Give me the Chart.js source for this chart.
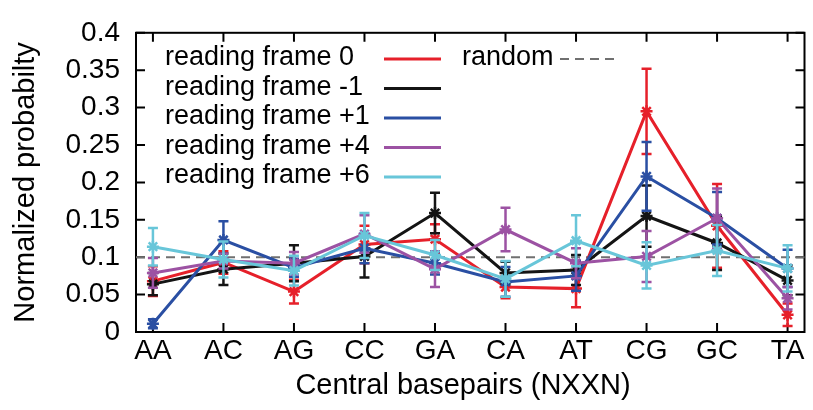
<!DOCTYPE html>
<html>
<head>
<meta charset="utf-8">
<script src="https://cdn.jsdelivr.net/npm/chart.js@4.4.0/dist/chart.umd.min.js"></script>
<style>
  html, body { margin: 0; padding: 0; background: #fff; }
</style>
</head>
<body>
<canvas id="chart" width="813" height="410"></canvas>
<script>
'use strict'

// central basepairs along x, tick values along y
const categories = ['AA', 'AC', 'AG', 'CC', 'GA', 'CA', 'AT', 'CG', 'GC', 'TA']
const yTickValues = [0, 0.05, 0.1, 0.15, 0.2, 0.25, 0.3, 0.35, 0.4]
const randomLevel = 0.1

// normalized probability per reading frame (value, error)
const frame0     = [0.068, 0.093, 0.054, 0.117, 0.124, 0.060, 0.058, 0.295, 0.142, 0.023]
const frame0Err  = [0.020, 0.015, 0.016, 0.025, 0.020, 0.015, 0.025, 0.057, 0.056, 0.015]
const frameM1    = [0.064, 0.084, 0.092, 0.101, 0.159, 0.079, 0.083, 0.155, 0.119, 0.069]
const frameM1Err = [0.015, 0.021, 0.024, 0.028, 0.027, 0.015, 0.020, 0.041, 0.036, 0.020]
const frameP1    = [0.011, 0.123, 0.086, 0.112, 0.092, 0.067, 0.075, 0.208, 0.152, 0.085]
const frameP1Err = [0.006, 0.025, 0.012, 0.020, 0.015, 0.020, 0.020, 0.046, 0.035, 0.025]
const frameP4    = [0.079, 0.095, 0.092, 0.131, 0.084, 0.137, 0.092, 0.101, 0.152, 0.045]
const frameP4Err = [0.020, 0.010, 0.015, 0.025, 0.024, 0.029, 0.020, 0.034, 0.040, 0.015]
const frameP6    = [0.114, 0.097, 0.082, 0.129, 0.103, 0.071, 0.122, 0.089, 0.109, 0.085]
const frameP6Err = [0.025, 0.024, 0.020, 0.030, 0.020, 0.024, 0.034, 0.031, 0.034, 0.031]

const seriesNames = ['reading frame 0', 'reading frame -1', 'reading frame +1', 'reading frame +4', 'reading frame +6']
const seriesValues = [frame0, frameM1, frameP1, frameP4, frameP6]
const seriesErrors = [frame0Err, frameM1Err, frameP1Err, frameP4Err, frameP6Err]
const seriesColors = ['#e6202a', '#141414', '#2a4fa3', '#9c52a3', '#68c6d9']

const FONT = 'Liberation Sans, Arial, Helvetica, sans-serif'
Chart.defaults.font.family = FONT
Chart.defaults.color = '#000'

// error bars, drawn right after their own line
const errorBars = {
  id: 'errorBars',
  afterDatasetDraw(chart, args) {
    const ds = chart.data.datasets[args.index]
    if (!ds.errors) return
    const { ctx, scales: { x, y } } = chart
    ctx.save()
    ctx.strokeStyle = ds.borderColor
    ctx.lineWidth = 2.5
    ds.data.forEach((pt, i) => {
      const px = x.getPixelForValue(pt.x)
      const top = y.getPixelForValue(pt.y + ds.errors[i])
      const bot = y.getPixelForValue(pt.y - ds.errors[i])
      ctx.beginPath()
      ctx.moveTo(px, top); ctx.lineTo(px, bot)
      ctx.moveTo(px - 5, top); ctx.lineTo(px + 5, top)
      ctx.moveTo(px - 5, bot); ctx.lineTo(px + 5, bot)
      ctx.stroke()
    })
    ctx.restore()
  }
}

// gnuplot style box with inward mirrored ticks + random baseline
const frameBox = {
  id: 'frameBox',
  beforeDatasetsDraw(chart) {
    const { ctx, chartArea: a, scales: { x, y } } = chart
    ctx.save()
    ctx.strokeStyle = '#000'
    ctx.lineWidth = 2
    ctx.strokeRect(a.left, a.top, a.right - a.left, a.bottom - a.top)
    ctx.beginPath()
    const len = 9
    x.ticks.forEach(t => {
      const px = x.getPixelForValue(t.value)
      ctx.moveTo(px, a.bottom); ctx.lineTo(px, a.bottom - len)
      ctx.moveTo(px, a.top); ctx.lineTo(px, a.top + len)
    })
    y.ticks.forEach(t => {
      const py = y.getPixelForValue(t.value)
      ctx.moveTo(a.left, py); ctx.lineTo(a.left + len, py)
      ctx.moveTo(a.right, py); ctx.lineTo(a.right - len, py)
    })
    ctx.stroke()

    const ry = y.getPixelForValue(randomLevel)
    ctx.strokeStyle = '#707070'
    ctx.lineWidth = 2
    ctx.setLineDash([9, 6])
    ctx.beginPath()
    ctx.moveTo(a.left, ry); ctx.lineTo(a.right, ry)
    ctx.stroke()
    ctx.restore()
  },
  afterDraw(chart) {
    const { ctx } = chart
    ctx.save()
    ctx.font = '27px ' + FONT
    ctx.textBaseline = 'middle'
    ctx.fillStyle = '#000'
    seriesNames.forEach((name, i) => {
      const ly = 58 + i * 29.5
      ctx.textAlign = 'left'
      ctx.fillText(name, 165, ly)
      ctx.strokeStyle = seriesColors[i]
      ctx.lineWidth = 3
      ctx.beginPath()
      ctx.moveTo(384, ly + 1); ctx.lineTo(441, ly + 1)
      ctx.stroke()
    })
    ctx.fillText('random', 462, 58)
    ctx.strokeStyle = '#707070'
    ctx.lineWidth = 2
    ctx.setLineDash([9, 6])
    ctx.beginPath()
    ctx.moveTo(560, 59); ctx.lineTo(616, 59)
    ctx.stroke()
    ctx.setLineDash([])

    // x axis title
    ctx.font = '29px ' + FONT
    ctx.textAlign = 'center'
    ctx.fillText('Central basepairs (NXXN)', 463, 386)
    ctx.restore()
  }
}

const ctx = document.getElementById('chart').getContext('2d')
const chart = new Chart(ctx, {
  type: 'line',
  data: {
    datasets: seriesNames.map((name, i) => ({
      label: name,
      data: seriesValues[i].map((v, j) => ({ x: j, y: v })),
      errors: seriesErrors[i],
      borderColor: seriesColors[i],
      backgroundColor: seriesColors[i],
      borderWidth: 3,
      pointStyle: 'star',
      pointRadius: 6,
      pointBorderWidth: 2.5,
      pointBorderColor: seriesColors[i],
      tension: 0,
      fill: false,
      order: seriesNames.length - i
    }))
  },
  options: {
    responsive: false,
    animation: false,
    devicePixelRatio: 1,
    layout: { padding: { top: 21, right: 1, left: 0, bottom: 0 } },
    plugins: {
      legend: { display: false },
      tooltip: { enabled: false }
    },
    scales: {
      x: {
        type: 'linear',
        min: -0.24,
        max: 9.24,
        afterBuildTicks: scale => { scale.ticks = categories.map((c, i) => ({ value: i })) },
        afterFit: scale => { scale.height = 78 },
        grid: { display: false, drawTicks: false },
        border: { display: false },
        ticks: {
          padding: 2,
          font: { size: 28 },
          color: '#000',
          maxRotation: 0,
          autoSkip: false,
          callback: v => categories[v]
        }
      },
      y: {
        min: 0,
        max: 0.4,
        afterBuildTicks: scale => { scale.ticks = yTickValues.map(v => ({ value: v })) },
        afterFit: scale => { scale.width = 136 },
        grid: { display: false, drawTicks: false },
        border: { display: false },
        ticks: {
          padding: 16,
          font: { size: 28 },
          color: '#000',
          callback: v => String(+v.toFixed(2))
        },
        title: {
          display: true,
          text: 'Normalized probabilty',
          font: { size: 29 },
          color: '#000',
          padding: { top: 9, bottom: 0 }
        }
      }
    }
  },
  plugins: [errorBars, frameBox]
})
</script>
</body>
</html>
